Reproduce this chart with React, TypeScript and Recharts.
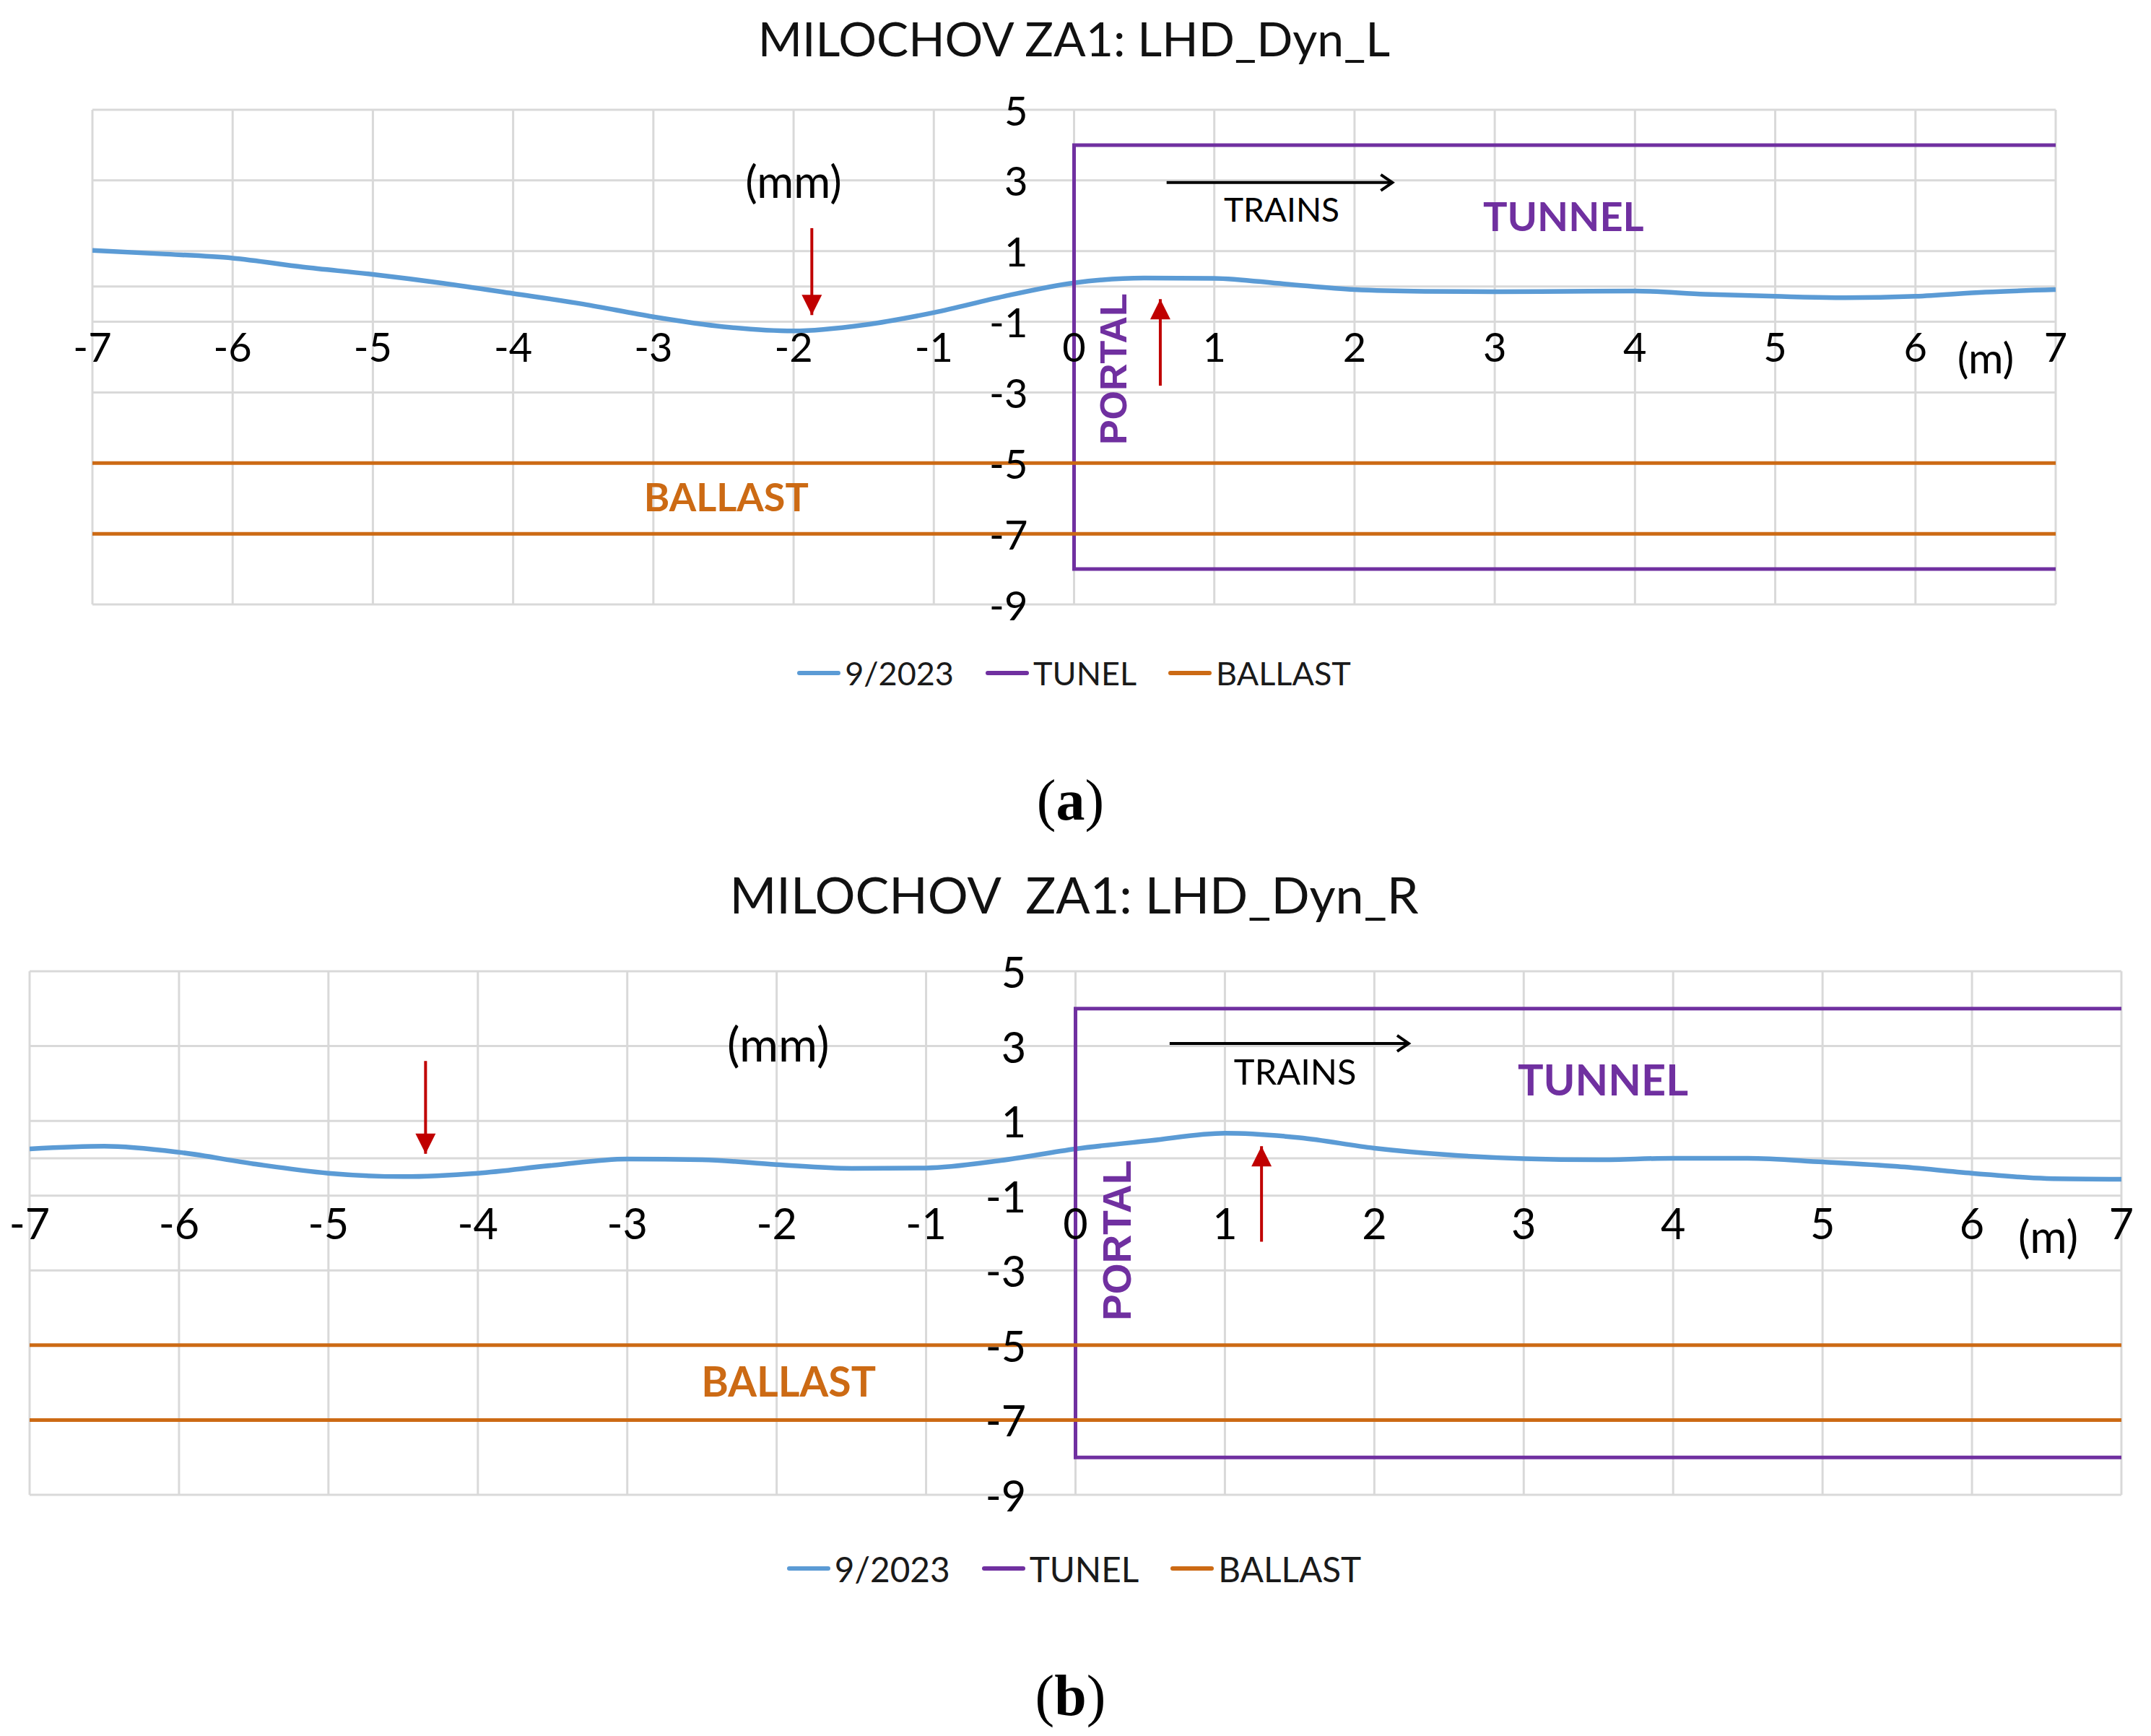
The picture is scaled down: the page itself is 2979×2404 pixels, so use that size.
import React from "react"
import { LineChart, Line, XAxis, YAxis, Legend, ReferenceLine, ReferenceDot } from "recharts"

// distance from the portal (m), every 0.5 m
const positions = [-7, -6.5, -6, -5.5, -5, -4.5, -4, -3.5, -3, -2.5, -2, -1.5, -1, -0.5, 0, 0.5, 1, 1.5, 2, 2.5, 3, 3.5, 4, 4.5, 5, 5.5, 6, 6.5, 7]

// 9/2023 measurement, left rail (mm)
const dynL = [1.02, 0.92, 0.8, 0.55, 0.34, 0.09, -0.2, -0.5, -0.86, -1.14, -1.26, -1.09, -0.74, -0.28, 0.1, 0.24, 0.23, 0.07, -0.09, -0.14, -0.15, -0.14, -0.13, -0.22, -0.28, -0.32, -0.28, -0.16, -0.09]
// 9/2023 measurement, right rail (mm)
const dynR = [0.25, 0.32, 0.16, -0.15, -0.4, -0.49, -0.4, -0.19, -0.02, -0.04, -0.17, -0.27, -0.26, -0.06, 0.25, 0.47, 0.67, 0.55, 0.27, 0.09, -0.01, -0.04, 0, 0, -0.1, -0.22, -0.4, -0.54, -0.56]

// tunnel outline and ballast layer
const tunnelX = [7, 0, 0, 7]
const tunnelY = [4, 4, -8, -8]
const ballastX = [-7, 7, 7, -7, 7]
const ballastY: (number | null)[] = [-5, -5, null, -7, -7]

const xTicks = [-7, -6, -5, -4, -3, -2, -1, 0, 1, 2, 3, 4, 5, 6, 7]
const yTicks = [5, 3, 1, -1, -3, -5, -7, -9]
const legendOrder = ["9/2023", "TUNEL", "BALLAST"]

const FONT = "Lato, 'Open Sans', sans-serif"
const BLUE = "#5B9BD5"
const PURPLE = "#7030A0"
const ORANGE = "#CC6A14"
const RED = "#C00000"
const GRID = "#d9d9d9"

const zip = (xs: number[], ys: (number | null)[]) => xs.map((x, i) => ({ x, y: ys[i] }))

const panels = [
  {
    id: "a",
    title: "MILOCHOV ZA1: LHD_Dyn_L",
    values: dynL,
    top: 0,
    height: 1000,
    margin: { top: 152, right: 132, bottom: 163, left: 128 },
    titleY: 53,
    legendY: 932,
    captionY: 1108,
    s: 1,
    titleSize: 66,
    xLabelY: -1.69,
    mm: [-2.0, 3.0],
    down: [-1.87, 1.65, -0.81],
    up: [0.615, -2.81, -0.36],
    trains: [0.66, 2.27, 2.94],
    trainsLabel: [1.48, 2.18],
    tunnel: [3.49, 2.0],
    portal: [0.28, -2.34],
    ballast: [-2.48, -5.95],
    m: [6.5, -2.0],
  },
  {
    id: "b",
    title: "MILOCHOV  ZA1: LHD_Dyn_R",
    values: dynR,
    top: 1190,
    height: 1060,
    margin: { top: 155, right: 41, bottom: 180, left: 41 },
    titleY: 48,
    legendY: 982,
    captionY: 1158,
    s: 1.06,
    titleSize: 70,
    xLabelY: -1.72,
    mm: [-1.99, 3.07],
    down: [-4.35, 2.6, 0.12],
    up: [1.245, -2.23, 0.32],
    trains: [0.63, 2.23, 3.07],
    trainsLabel: [1.47, 2.34],
    tunnel: [3.53, 2.12],
    portal: [0.28, -2.2],
    ballast: [-1.92, -5.95],
    m: [6.51, -2.05],
  },
]

type TxtOpts = {
  size: number
  color?: string
  weight?: number
  anchor?: "start" | "middle" | "end"
  family?: string
  rotate?: number
}

const textShape = (text: string, o: TxtOpts) => (p: any) => (
  <text
    x={p.cx}
    y={p.cy}
    fontSize={o.size}
    fill={o.color || "#000"}
    fontWeight={o.weight || 400}
    textAnchor={o.anchor || "middle"}
    dominantBaseline="central"
    fontFamily={o.family || FONT}
    transform={o.rotate ? `rotate(${o.rotate} ${p.cx} ${p.cy})` : undefined}
  >
    {text}
  </text>
)

const headDown = (p: any) => (
  <polygon points={`${p.cx - 14},${p.cy - 28} ${p.cx + 14},${p.cy - 28} ${p.cx},${p.cy}`} fill={RED} />
)
const headUp = (p: any) => (
  <polygon points={`${p.cx - 14},${p.cy + 28} ${p.cx + 14},${p.cy + 28} ${p.cx},${p.cy}`} fill={RED} />
)
const headRight = (p: any) => (
  <polyline
    points={`${p.cx - 16},${p.cy - 11} ${p.cx},${p.cy} ${p.cx - 16},${p.cy + 11}`}
    fill="none"
    stroke="#000"
    strokeWidth={4}
  />
)

const legendContent = (fontSize: number) => (props: any) => {
  const items = [...(props.payload || [])].sort(
    (a: any, b: any) => legendOrder.indexOf(a.value) - legendOrder.indexOf(b.value)
  )
  return (
    <div
      style={{
        display: "flex",
        justifyContent: "center",
        alignItems: "center",
        gap: 44,
        height: 60,
        fontFamily: FONT,
        fontSize,
        color: "#1a1a1a",
      }}
    >
      {items.map((entry: any) => (
        <div key={entry.value} style={{ display: "flex", alignItems: "center" }}>
          <span style={{ display: "inline-block", width: 60, height: 6, borderRadius: 3, background: entry.color, marginRight: 6 }} />
          <span>{entry.value}</span>
        </div>
      ))}
    </div>
  )
}

const Panel = ({ p }: { p: (typeof panels)[number] }) => {
  const s = p.s
  const series = zip(positions, p.values)
  return (
    <div style={{ position: "absolute", left: 0, top: p.top, width: 2979, height: p.height + 200 }}>
      <div
        style={{
          position: "absolute",
          left: 0,
          top: p.titleY - 45,
          width: 2975,
          height: 90,
          lineHeight: "90px",
          textAlign: "center",
          fontFamily: FONT,
          fontSize: p.titleSize,
          color: "#111",
          whiteSpace: "pre",
        }}
      >
        {p.title}
      </div>
      <LineChart width={2979} height={p.height} margin={p.margin}>
        <XAxis type="number" dataKey="x" domain={[-7, 7]} ticks={xTicks} tick={false} axisLine={false} tickLine={false} height={0} allowDataOverflow />
        <YAxis type="number" domain={[-9, 5]} ticks={yTicks} tick={false} axisLine={false} tickLine={false} width={0} allowDataOverflow />

        {/* gridlines */}
        {yTicks.map((t) => (
          <ReferenceLine key={"gy" + t} y={t} stroke={GRID} strokeWidth={3} ifOverflow="visible" />
        ))}
        {xTicks.map((t) => (
          <ReferenceLine key={"gx" + t} x={t} stroke={GRID} strokeWidth={3} ifOverflow="visible" />
        ))}
        <ReferenceLine y={0} stroke={GRID} strokeWidth={3} />

        <Legend
          verticalAlign="middle"
          align="center"
          wrapperStyle={{ top: p.legendY - 30, left: 0, width: 2975 }}
          content={legendContent(45 * s)}
        />
        <Line data={series} dataKey="y" name="9/2023" type="monotone" stroke={BLUE} strokeWidth={6.5} dot={false} activeDot={false} isAnimationActive={false} legendType="plainline" />
        <Line data={zip(tunnelX, tunnelY)} dataKey="y" name="TUNEL" type="linear" stroke={PURPLE} strokeWidth={5} dot={false} activeDot={false} isAnimationActive={false} legendType="plainline" />
        <Line data={zip(ballastX, ballastY)} dataKey="y" name="BALLAST" type="linear" stroke={ORANGE} strokeWidth={5} dot={false} activeDot={false} isAnimationActive={false} legendType="plainline" connectNulls={false} />

        {xTicks.map((t) => (
          <ReferenceDot key={"x" + t} x={t} y={p.xLabelY} ifOverflow="visible" shape={textShape(String(t), { size: 56 * s })} />
        ))}
        {yTicks.map((t) => (
          <ReferenceDot key={"y" + t} x={-0.33} y={t} ifOverflow="visible" shape={textShape(String(t), { size: 56 * s, anchor: "end" })} />
        ))}

        <ReferenceDot x={p.mm[0]} y={p.mm[1]} ifOverflow="visible" shape={textShape("(mm)", { size: 62 * s })} />
        <ReferenceDot x={p.m[0]} y={p.m[1]} ifOverflow="visible" shape={textShape("(m)", { size: 59 * s })} />
        <ReferenceDot x={p.trainsLabel[0]} y={p.trainsLabel[1]} ifOverflow="visible" shape={textShape("TRAINS", { size: 46 * s })} />
        <ReferenceDot x={p.tunnel[0]} y={p.tunnel[1]} ifOverflow="visible" shape={textShape("TUNNEL", { size: 56 * s, weight: 700, color: PURPLE })} />
        <ReferenceDot x={p.ballast[0]} y={p.ballast[1]} ifOverflow="visible" shape={textShape("BALLAST", { size: 54 * s, weight: 700, color: ORANGE })} />
        <ReferenceDot
          x={p.portal[0]}
          y={p.portal[1]}
          ifOverflow="visible"
          shape={textShape("PORTAL", { size: 52 * s, weight: 700, color: PURPLE, rotate: -90, family: "'Liberation Sans', Arial, sans-serif" })}
        />

        <ReferenceLine segment={[{ x: p.trains[0], y: p.trains[2] }, { x: p.trains[1], y: p.trains[2] }]} stroke="#000" strokeWidth={4} ifOverflow="visible" />
        <ReferenceDot x={p.trains[1]} y={p.trains[2]} ifOverflow="visible" shape={headRight} />

        <ReferenceLine segment={[{ x: p.down[0], y: p.down[1] }, { x: p.down[0], y: p.down[2] }]} stroke={RED} strokeWidth={4} ifOverflow="visible" />
        <ReferenceDot x={p.down[0]} y={p.down[2]} ifOverflow="visible" shape={headDown} />
        <ReferenceLine segment={[{ x: p.up[0], y: p.up[1] }, { x: p.up[0], y: p.up[2] }]} stroke={RED} strokeWidth={4} ifOverflow="visible" />
        <ReferenceDot x={p.up[0]} y={p.up[2]} ifOverflow="visible" shape={headUp} />
      </LineChart>
      <div
        style={{
          position: "absolute",
          left: 0,
          top: p.captionY - 50,
          width: 2965,
          height: 100,
          lineHeight: "100px",
          textAlign: "center",
          fontFamily: "'Liberation Serif', 'Times New Roman', serif",
          fontSize: 80,
          fontWeight: 400,
          color: "#000",
        }}
      >
        (<b>{p.id}</b>)
      </div>
    </div>
  )
}

export default function App() {
  return (
    <div style={{ position: "absolute", left: 0, top: 0, width: 2979, height: 2404, background: "#fff", overflow: "hidden" }}>
      {panels.map((p) => (
        <Panel key={p.id} p={p} />
      ))}
    </div>
  )
}
